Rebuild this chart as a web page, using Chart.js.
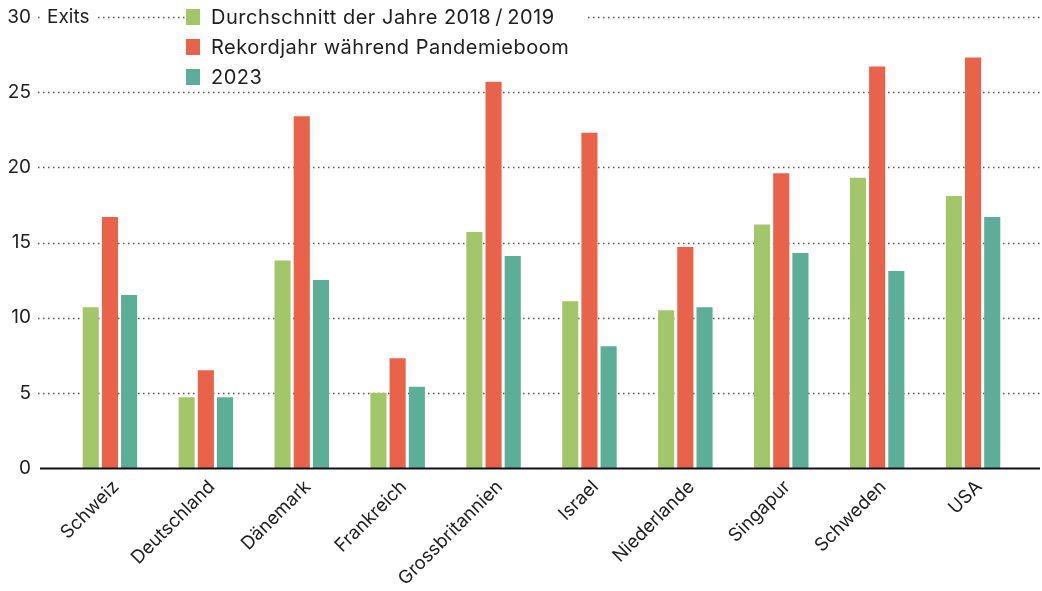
<!DOCTYPE html>
<html>
<head>
<meta charset="utf-8">
<script src="https://cdn.jsdelivr.net/npm/chart.js@4/dist/chart.umd.min.js"></script>
<style>
  html, body { margin: 0; padding: 0; background: #fff; }
  #wrap { width: 1042px; height: 591px; }
</style>
</head>
<body>
<div id="wrap"><canvas id="chart"></canvas></div>
<script>
/* data */
const countries = ["Schweiz", "Deutschland", "Dänemark", "Frankreich", "Grossbritannien",
  "Israel", "Niederlande", "Singapur", "Schweden", "USA"];
const avg2018_2019 = [10.7, 4.7, 13.8, 5.0, 15.7, 11.1, 10.5, 16.2, 19.3, 18.1];
const recordYear = [16.7, 6.5, 23.4, 7.3, 25.7, 22.3, 14.7, 19.6, 26.7, 27.3];
const year2023 = [11.5, 4.7, 12.5, 5.4, 14.1, 8.1, 10.7, 14.3, 13.1, 16.7];
const yTicks = [0, 5, 10, 15, 20, 25, 30];
const seriesNames = ["Durchschnitt der Jahre 2018\u2009/\u20092019", "Rekordjahr während Pandemieboom", "2023"];
const colors = ["#A2C76B", "#E9634A", "#5CAE97"];

const FONT = "Inter, Roboto, sans-serif";
const TEXT = "#1e1e1e";

/* dotted grid + axis line + top label / legend */
const decor = {
  id: "decor",
  beforeDatasetsDraw(chart) {
    const ctx = chart.ctx;
    const y = chart.scales.y;
    ctx.save();
    ctx.strokeStyle = "#555";
    ctx.lineWidth = 1.5;
    ctx.setLineDash([1.5, 3.5]);
    yTicks.forEach(v => {
      if (v === 0) return;
      const py = Math.round(y.getPixelForValue(v)) + 0.5;
      ctx.beginPath();
      ctx.moveTo(38, py);
      ctx.lineTo(1040, py);
      ctx.stroke();
    });
    ctx.setLineDash([]);
    // clear space on the top gridline for "Exits" and the legend
    const top = Math.round(y.getPixelForValue(30));
    ctx.fillStyle = "#fff";
    ctx.fillRect(40, top - 4, 58, 8);
    ctx.fillRect(198, top - 4, 390, 8);
    ctx.restore();
  },
  afterDraw(chart) {
    const ctx = chart.ctx;
    const y = chart.scales.y;
    const top = y.getPixelForValue(30);
    const zero = Math.round(y.getPixelForValue(0)) + 0.5;
    ctx.save();
    ctx.strokeStyle = "#111";
    ctx.lineWidth = 2;
    ctx.beginPath();
    ctx.moveTo(40, zero);
    ctx.lineTo(1040, zero);
    ctx.stroke();

    ctx.fillStyle = TEXT;
    ctx.font = "19px " + FONT;
    ctx.textBaseline = "middle";
    ctx.textAlign = "left";
    ctx.fillText("Exits", 47, top);

    ctx.font = "20px " + FONT;
    ctx.letterSpacing = "0.5px";
    seriesNames.forEach((name, i) => {
      const cy = top + i * 30;
      ctx.fillStyle = colors[i];
      ctx.fillRect(186, cy - 8, 14, 16);
      ctx.fillStyle = TEXT;
      ctx.fillText(name, 211, cy + 1);
    });
    ctx.restore();
  }
};

new Chart(document.getElementById("chart"), {
  type: "bar",
  data: {
    labels: countries,
    datasets: [
      { label: seriesNames[0], data: avg2018_2019, backgroundColor: colors[0] },
      { label: seriesNames[1], data: recordYear, backgroundColor: colors[1] },
      { label: seriesNames[2], data: year2023, backgroundColor: colors[2] }
    ]
  },
  options: {
    responsive: true,
    maintainAspectRatio: false,
    animation: false,
    datasets: { bar: { categoryPercentage: 0.6, barPercentage: 0.84 } },
    layout: { padding: { top: 17, right: 21, left: 0, bottom: 0 } },
    plugins: { legend: { display: false }, tooltip: { enabled: false } },
    scales: {
      x: {
        grid: { display: false, drawTicks: false },
        border: { display: false },
        afterFit: s => { s.height = 123; s.paddingTop = 0; s.paddingBottom = 0; },
        ticks: {
          minRotation: 45, maxRotation: 45, padding: 8, labelOffset: 6,
          color: TEXT, font: { family: FONT, size: 18.5 }
        }
      },
      y: {
        min: 0, max: 30,
        grid: { display: false, drawTicks: false },
        border: { display: false },
        afterFit: s => { s.width = 62; s.paddingTop = 0; s.paddingBottom = 0; },
        afterBuildTicks: s => { s.ticks = yTicks.map(v => ({ value: v })); },
        ticks: {
          padding: 31, color: TEXT, font: { family: FONT, size: 19 }
        }
      }
    }
  },
  plugins: [decor]
});
</script>
</body>
</html>
